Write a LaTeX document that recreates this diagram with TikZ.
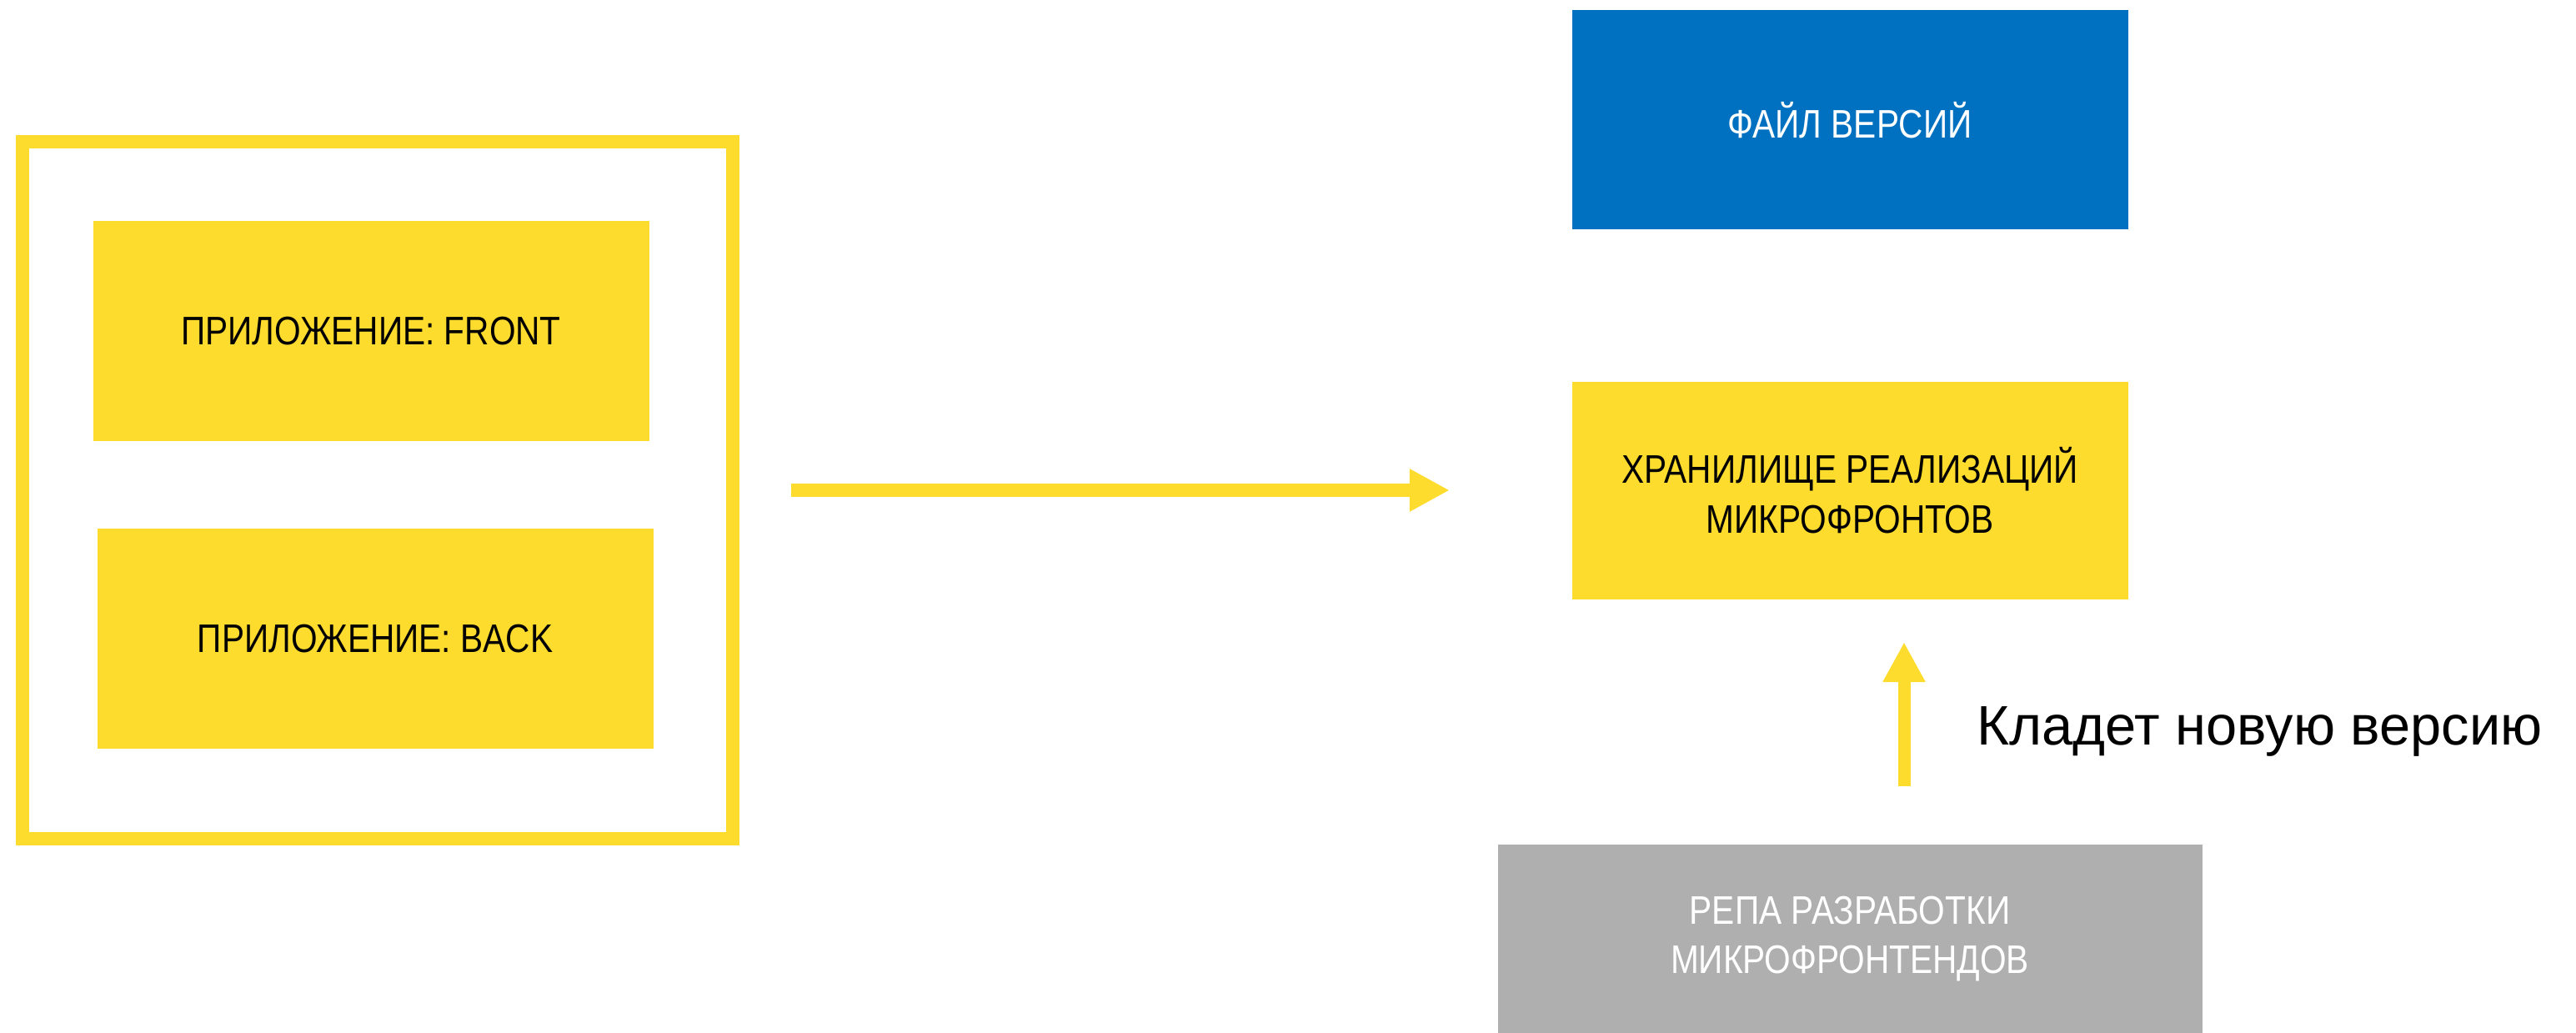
\documentclass[tikz,border=0pt]{standalone}
\usepackage{fontspec}
\setmainfont{Liberation Sans}
\newfontfamily\boxfont[FakeStretch=0.85]{Liberation Sans}
\usetikzlibrary{arrows.meta}
\definecolor{ayellow}{HTML}{FDDC2E}
\definecolor{ablue}{HTML}{0070C0}
\definecolor{agray}{HTML}{AFAFAF}

\begin{document}
\begin{tikzpicture}[x=1cm, y=-1cm,
    block/.style={fill=ayellow, text=black, minimum width=6.67cm, minimum height=2.64cm,
        inner sep=0pt, align=center, font=\boxfont\fontsize{13.6}{17}\selectfont},
    flow/.style={draw=ayellow, line width=0.16cm, -{Triangle[length=0.48cm, width=0.48cm]}}]
    \useasboundingbox (0,0) rectangle (30.90,12.39);

    % Application frame
    \node (appframe) [draw=ayellow, line width=0.16cm, minimum width=8.52cm,
        minimum height=8.36cm] at (4.53,5.88) {};
    \node (front) [block] at (4.45,3.97) {ПРИЛОЖЕНИЕ: FRONT};
    \node (back) [block] at (4.50,7.66) {ПРИЛОЖЕНИЕ: BACK};

    % Storage side
    \node (versions) [block, fill=ablue, text=white, minimum height=2.63cm] at (22.19,1.44) {ФАЙЛ ВЕРСИЙ};
    \node (storage) [block, minimum height=2.61cm] at (22.19,5.88) {ХРАНИЛИЩЕ РЕАЛИЗАЦИЙ\\МИКРОФРОНТОВ};
    \node (repo) [block, fill=agray, text=white, minimum width=8.45cm, minimum height=2.26cm] at (22.19,11.26) {РЕПА РАЗРАБОТКИ\\МИКРОФРОНТЕНДОВ};

    % Arrows
    \draw[flow, shorten <=0.62cm, shorten >=1.46cm] (appframe.east) -- (appframe.east -| storage.west);
    \draw[flow, line width=0.15cm, shorten <=0.69cm, shorten >=0.51cm]
        ([xshift=0.65cm]repo.north) -- ([xshift=0.65cm]storage.south);
    \node (putnote) [anchor=base west, inner sep=0pt, font=\fontsize{19}{23}\selectfont] at (23.71,8.93) {Кладет новую версию};

\end{tikzpicture}
\end{document}
